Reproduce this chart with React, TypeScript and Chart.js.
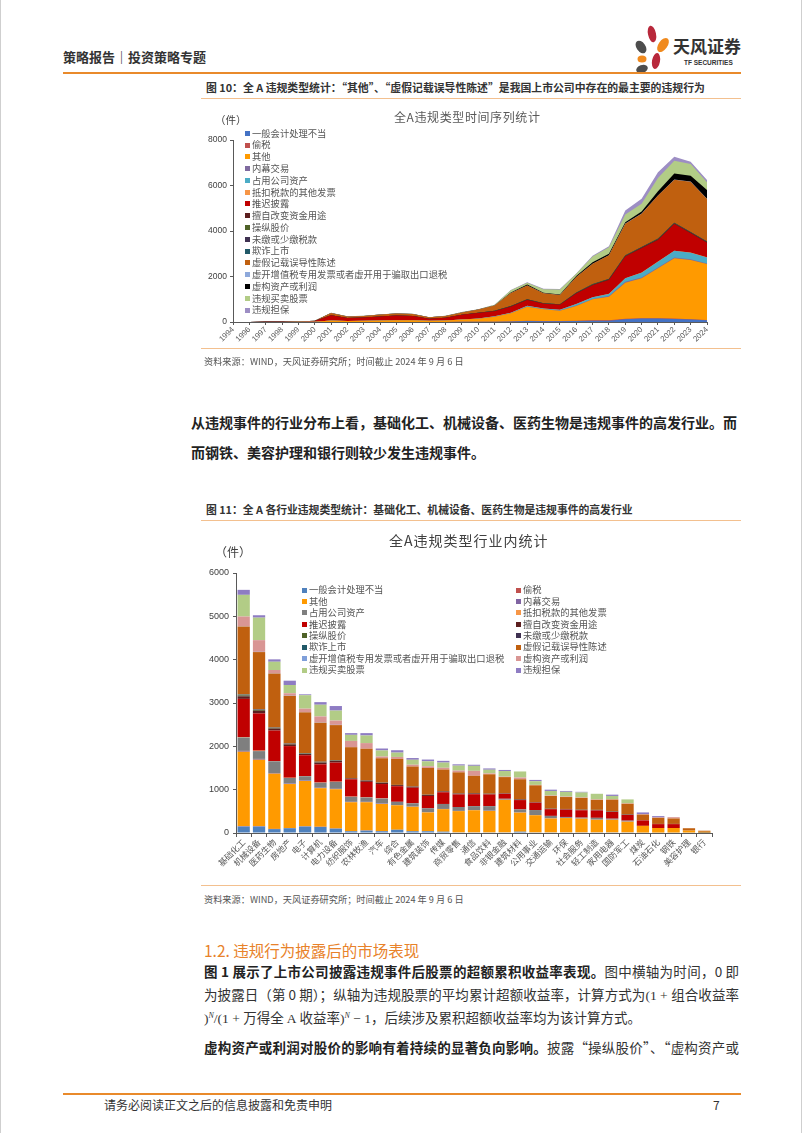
import React, { useEffect, useRef } from "react";
import { Chart, registerables } from "chart.js";

Chart.register(...registerables);

// ---------- shared series names ----------
const seriesNames = [
  "一般会计处理不当",
  "偷税",
  "其他",
  "内幕交易",
  "占用公司资产",
  "抵扣税款的其他发票",
  "推迟披露",
  "擅自改变资金用途",
  "操纵股价",
  "未缴或少缴税款",
  "欺诈上市",
  "虚假记载误导性陈述",
  "虚开增值税专用发票或者虚开用于骗取出口退税",
  "虚构资产或利润",
  "违规买卖股票",
  "违规担保",
];

const colorsTime = [
  "#4472C4", "#C0504D", "#FF9A00", "#7F6A9F", "#4BACC6", "#F79646", "#C00000", "#5C1F1F",
  "#4F6228", "#3F3151", "#215968", "#C0600F", "#8EA9DB", "#000000", "#B2CC86", "#9D8EC4",
];
const colorsIndustry = [
  "#4F81BD", "#C0504D", "#FF9A00", "#8064A2", "#7F7F7F", "#F79646", "#C00000", "#5C1F1F",
  "#4F6228", "#3F3151", "#215968", "#C0600F", "#7F9FD9", "#D99694", "#B2CC86", "#8E7CC3",
];

// ---------- chart 1: time series ----------
const yearLabels = [
  "1994", "1996", "1997", "1998", "1999", "2000", "2001", "2002", "2003", "2004",
  "2005", "2006", "2007", "2008", "2009", "2010", "2011", "2012", "2013", "2014",
  "2015", "2016", "2017", "2018", "2019", "2020", "2021", "2022", "2023", "2024",
];
const tsAccounting = [0,0,0,0,0,0,5,5,5,5,5,5,5,5,10,10,10,20,40,30,30,40,60,60,120,150,150,130,110,80];
const tsTaxEvasion = [0,0,0,0,0,0,0,0,0,0,0,0,0,0,0,0,5,5,10,10,10,10,15,15,20,20,20,20,15,10];
const tsOther = [2,2,3,4,8,10,60,40,50,60,70,70,50,60,100,130,220,355,620,515,460,650,920,1040,1590,1750,2190,2650,2600,2460];
const tsInsider = [0,0,0,0,0,0,0,0,0,0,0,0,0,0,0,0,5,5,10,10,10,20,20,30,40,40,40,40,30,20];
const tsOccupy = [0,0,0,0,0,0,0,0,0,0,0,0,0,0,5,10,15,20,30,30,25,70,70,90,150,210,250,290,290,270];
const tsDeduct = [0,0,0,0,0,0,0,0,0,0,0,0,0,0,0,0,0,0,0,0,0,5,5,5,5,5,5,5,5,5];
const tsDelay = [2,2,3,4,8,35,230,130,140,180,210,190,90,120,200,250,220,270,260,210,220,460,530,610,950,1070,950,1170,850,640];
const tsMisuse = [0,0,0,0,0,0,0,0,0,0,0,0,0,0,5,5,10,15,15,10,10,20,20,25,30,30,30,30,30,30];
const tsManipulation = [0,0,0,0,0,0,0,0,0,0,0,0,0,0,0,0,5,10,10,10,10,10,15,15,15,15,20,20,20,15];
const tsUnpaidTax = [0,0,0,0,0,0,0,0,0,0,0,0,0,0,0,0,0,0,0,0,0,5,5,5,5,5,5,5,5,5];
const tsFraudIPO = [0,0,0,0,0,0,0,0,0,0,0,0,0,0,0,0,0,0,0,0,0,5,5,5,5,5,5,5,5,5];
const tsFalseStatement = [1,1,2,2,4,15,100,70,70,80,90,90,60,80,100,140,230,580,610,440,410,680,890,1030,1390,1460,1890,1890,2210,1870];
const tsFakeInvoice = [0,0,0,0,0,0,0,0,0,0,0,0,0,0,0,0,0,0,0,0,0,5,5,5,5,5,5,5,5,5];
const tsFictitious = [0,0,0,0,0,0,0,0,0,0,0,0,0,0,0,0,5,20,40,20,20,40,65,65,65,95,185,265,255,385];
const tsIllegalTrading = [0,0,0,0,0,0,10,5,5,5,5,5,5,5,15,20,30,100,80,150,220,100,250,290,340,340,590,560,510,340];
const tsGuarantee = [0,0,0,0,0,0,0,0,0,0,0,0,0,0,0,0,0,10,20,30,30,10,40,40,170,220,250,180,100,100];

const timeSeries = [
  tsAccounting, tsTaxEvasion, tsOther, tsInsider, tsOccupy, tsDeduct, tsDelay, tsMisuse,
  tsManipulation, tsUnpaidTax, tsFraudIPO, tsFalseStatement, tsFakeInvoice, tsFictitious,
  tsIllegalTrading, tsGuarantee,
];
const yTicks1 = [0, 2000, 4000, 6000, 8000];

// ---------- chart 2: by industry ----------
const industries = [
  "基础化工", "机械设备", "医药生物", "房地产", "电子", "计算机", "电力设备", "纺织服饰",
  "农林牧渔", "汽车", "综合", "有色金属", "建筑装饰", "传媒", "商贸零售", "通信",
  "食品饮料", "非银金融", "建筑材料", "公用事业", "交通运输", "环保", "社会服务", "轻工制造",
  "家用电器", "国防军工", "煤炭", "石油石化", "钢铁", "美容护理", "银行",
];
const indAccounting = [150,150,90,110,150,140,100,40,55,40,75,40,40,30,15,15,15,15,30,15,15,15,15,15,15,15,10,10,10,10,3];
const indTaxEvasion = [10,10,5,5,5,5,5,0,5,5,0,0,0,0,0,0,0,0,0,0,0,0,0,0,0,0,0,0,0,0,0];
const indOther = [1715,1530,1275,1015,1045,890,905,670,650,625,565,565,435,520,490,510,495,750,440,395,320,330,315,290,290,245,155,105,105,45,25];
const indInsider = [20,20,15,10,10,10,10,10,10,10,5,5,5,5,5,5,5,5,5,5,5,5,5,5,5,5,0,0,0,0,0];
const indOccupy = [310,180,270,130,100,115,160,115,100,115,75,75,90,115,90,90,105,20,70,115,55,20,20,40,20,20,0,0,0,0,0];
const indDeduct = [10,10,5,5,5,5,5,5,5,5,0,0,0,0,0,0,0,0,0,0,0,0,0,0,0,0,0,0,0,0,0];
const indDelay = [880,860,705,730,480,420,440,400,355,330,360,360,285,270,290,275,270,115,215,170,155,170,170,170,155,130,125,90,90,0,0];
const indMisuse = [60,60,45,40,30,40,40,20,30,30,25,25,25,20,20,20,15,10,15,10,10,10,10,10,10,10,5,5,5,0,0];
const indManipulation = [20,20,15,10,10,10,10,5,5,5,5,5,5,5,5,5,5,5,5,5,5,5,5,5,5,5,0,0,0,0,0];
const indUnpaidTax = [10,10,5,5,5,5,5,0,0,0,0,0,0,0,0,0,0,0,0,0,0,0,0,0,0,0,0,0,0,0,0];
const indFraudIPO = [10,5,5,5,5,5,5,0,0,0,0,0,0,0,0,0,0,0,0,0,0,0,0,0,0,0,0,0,0,0,0];
const indFalseStatement = [1573,1320,1245,1100,940,900,805,715,730,560,600,460,615,500,485,400,445,370,460,385,290,275,270,230,270,245,130,140,125,55,25];
const indFakeInvoice = [5,5,5,5,5,5,5,0,0,0,0,0,0,0,0,0,0,0,0,0,0,0,0,0,0,0,0,0,0,0,0];
const indFictitious = [223,270,77,55,80,140,100,145,130,40,45,40,40,40,40,115,20,10,40,10,10,10,10,10,10,10,10,10,30,0,0];
const indIllegalTrading = [500,520,190,190,310,270,230,140,175,140,100,115,115,120,115,115,85,130,140,85,105,110,115,130,75,90,0,0,0,0,0];
const indGuarantee = [115,55,55,100,20,60,105,40,55,45,55,40,40,40,30,25,30,25,0,30,30,20,15,0,30,0,40,30,0,0,0];

const industrySeries = [
  indAccounting, indTaxEvasion, indOther, indInsider, indOccupy, indDeduct, indDelay, indMisuse,
  indManipulation, indUnpaidTax, indFraudIPO, indFalseStatement, indFakeInvoice, indFictitious,
  indIllegalTrading, indGuarantee,
];
const yTicks2 = [0, 1000, 2000, 3000, 4000, 5000, 6000];

const CJK = '"Noto Sans CJK SC", "Noto Sans", sans-serif';
const AXIS = "#595959";

function axisGrid(tickLength: number) {
  return {
    display: true,
    drawOnChartArea: false,
    drawTicks: true,
    tickLength,
    color: AXIS,
    tickColor: AXIS,
    lineWidth: 1,
  };
}

const Txt = (p: { x: number; y: number; size: number; children: any; style?: any }) => (
  <div
    style={{
      position: "absolute",
      left: p.x,
      top: p.y - p.size * 0.56,
      fontSize: p.size,
      lineHeight: 1,
      whiteSpace: "nowrap",
      fontFamily: CJK,
      ...(p.style || {}),
    }}
  >
    {p.children}
  </div>
);

const HLine = (p: { x: number; y: number; w: number; h?: number; c: string }) => (
  <div style={{ position: "absolute", left: p.x, top: p.y, width: p.w, height: p.h || 1, background: p.c }} />
);

function TimeChart() {
  const ref = useRef<HTMLCanvasElement>(null);
  useEffect(() => {
    if (!ref.current) return;
    const chart = new Chart(ref.current, {
      type: "line",
      data: {
        labels: yearLabels,
        datasets: seriesNames.map((name, i) => ({
          label: name,
          data: timeSeries[i],
          backgroundColor: colorsTime[i],
          borderColor: colorsTime[i],
          borderWidth: 0,
          pointRadius: 0,
          tension: 0,
          fill: "origin",
        })),
      },
      options: {
        responsive: false,
        animation: false,
        events: [],
        layout: { padding: { top: 40, right: 24, left: 0, bottom: 0 } },
        plugins: { legend: { display: false }, tooltip: { enabled: false }, title: { display: false } },
        scales: {
          x: {
            offset: false,
            grid: axisGrid(3) as any,
            border: { display: true, color: AXIS },
            ticks: {
              autoSkip: false,
              maxRotation: 45,
              minRotation: 45,
              padding: 0,
              color: "#595959",
              font: { family: "Liberation Sans", size: 7.8 },
            },
            afterFit: (s: any) => {
              s.height = 28;
            },
          },
          y: {
            stacked: true,
            min: 0,
            max: 8000,
            afterBuildTicks: (s: any) => {
              s.ticks = yTicks1.map((v) => ({ value: v }));
            },
            grid: axisGrid(3) as any,
            border: { display: true, color: AXIS },
            ticks: {
              padding: 3,
              color: "#404040",
              font: { family: "Liberation Sans", size: 8.5 },
              callback: (v: any) => String(v),
            },
            afterFit: (s: any) => {
              s.width = 32;
            },
          },
        },
      } as any,
    });
    return () => chart.destroy();
  }, []);
  return (
    <>
      <canvas ref={ref} width={530} height={250} style={{ position: "absolute", left: 200, top: 100 }} />
      <Txt x={393} y={118} size={12} style={{ color: "#595959", letterSpacing: 0.6 }}>
        全A违规类型时间序列统计
      </Txt>
      <Txt x={214} y={121} size={10.5} style={{ color: "#404040" }}>
        （件）
      </Txt>
      {seriesNames.map((name, i) => (
        <div
          key={name}
          style={{
            position: "absolute",
            left: 244,
            top: 133.3 + 11.78 * i - 5.5,
            height: 11,
            display: "flex",
            alignItems: "center",
            whiteSpace: "nowrap",
            fontFamily: CJK,
            fontSize: 9.3,
            lineHeight: 1,
            color: "#555",
          }}
        >
          <span style={{ display: "inline-block", width: 5, height: 5, background: colorsTime[i], marginRight: 2 }} />
          {name}
        </div>
      ))}
    </>
  );
}

function IndustryChart() {
  const ref = useRef<HTMLCanvasElement>(null);
  useEffect(() => {
    if (!ref.current) return;
    const chart = new Chart(ref.current, {
      type: "bar",
      data: {
        labels: industries,
        datasets: seriesNames.map((name, i) => ({
          label: name,
          data: industrySeries[i],
          backgroundColor: colorsIndustry[i],
          borderWidth: 0,
          barPercentage: 0.8,
          categoryPercentage: 1,
        })),
      },
      options: {
        responsive: false,
        animation: false,
        events: [],
        layout: { padding: { top: 48, right: 19, left: 0, bottom: 0 } },
        plugins: { legend: { display: false }, tooltip: { enabled: false }, title: { display: false } },
        scales: {
          x: {
            stacked: true,
            grid: { ...axisGrid(4), offset: true } as any,
            border: { display: true, color: AXIS },
            ticks: {
              autoSkip: false,
              maxRotation: 45,
              minRotation: 45,
              padding: 0,
              color: "#595959",
              font: { family: CJK, size: 8.5 },
            },
            afterFit: (s: any) => {
              s.height = 52;
            },
          },
          y: {
            stacked: true,
            min: 0,
            max: 6000,
            afterBuildTicks: (s: any) => {
              s.ticks = yTicks2.map((v) => ({ value: v }));
            },
            grid: axisGrid(3) as any,
            border: { display: true, color: AXIS },
            ticks: {
              padding: 4,
              color: "#404040",
              font: { family: "Liberation Sans", size: 9 },
              callback: (v: any) => String(v),
            },
            afterFit: (s: any) => {
              s.width = 35;
            },
          },
        },
      } as any,
    });
    return () => chart.destroy();
  }, []);
  return (
    <>
      <canvas ref={ref} width={530} height={360} style={{ position: "absolute", left: 200, top: 525 }} />
      <Txt x={388} y={541} size={14} style={{ color: "#404040", letterSpacing: 1 }}>
        全A违规类型行业内统计
      </Txt>
      <Txt x={214} y={553} size={12} style={{ color: "#404040" }}>
        （件）
      </Txt>
      {seriesNames.map((name, i) => {
        const col = i % 2;
        const row = Math.floor(i / 2);
        return (
          <div
            key={name}
            style={{
              position: "absolute",
              left: col === 0 ? 301 : 515,
              top: 590 + 11.43 * row - 5.5,
              height: 11,
              display: "flex",
              alignItems: "center",
              whiteSpace: "nowrap",
              fontFamily: CJK,
              fontSize: 9.3,
              lineHeight: 1,
              color: "#555",
            }}
          >
            <span style={{ display: "inline-block", width: 5, height: 5, background: colorsIndustry[i], marginRight: 2 }} />
            {name}
          </div>
        );
      })}
    </>
  );
}

const Logo = () => (
  <svg width={44} height={52} style={{ position: "absolute", left: 627, top: 23 }} viewBox="0 0 44 52">
    <ellipse cx={24} cy={11} rx={4} ry={8.5} transform="rotate(-12 24 11)" fill="#B8283B" />
    <ellipse cx={35} cy={22} rx={4.5} ry={8} transform="rotate(35 35 22)" fill="#F08A1E" />
    <ellipse cx={13} cy={24} rx={4.5} ry={7} transform="rotate(-35 13 24)" fill="#4D4D4D" />
    <ellipse cx={14} cy={36} rx={4.5} ry={3.5} fill="#F08A1E" />
    <ellipse cx={28} cy={38} rx={4} ry={8} transform="rotate(10 28 38)" fill="#B8283B" />
    <ellipse cx={14} cy={46} rx={6} ry={4} transform="rotate(-20 14 46)" fill="#4D4D4D" />
  </svg>
);

const serif = { fontFamily: '"Liberation Serif", "DejaVu Serif", serif' };
const justified = { width: 535, textAlign: "justify" as const, textAlignLast: "justify" as const };

export default function App() {
  return (
    <div
      style={{
        position: "absolute",
        left: 0,
        top: 0,
        width: 802,
        height: 1133,
        background: "#fff",
        overflow: "hidden",
        boxSizing: "border-box",
        borderLeft: "1px solid #cfcfcf",
        borderRight: "1px solid #cfcfcf",
        fontFamily: CJK,
        color: "#333",
      }}
    >
      {/* header */}
      <Txt x={62} y={57} size={13} style={{ fontWeight: 700, color: "#333" }}>
        策略报告｜投资策略专题
      </Txt>
      <Logo />
      <Txt x={672} y={47} size={17} style={{ fontWeight: 700, color: "#333" }}>
        天风证券
      </Txt>
      <Txt x={683} y={64} size={6.5} style={{ fontWeight: 700, color: "#333", fontFamily: "Liberation Sans" }}>
        TF SECURITIES
      </Txt>
      <HLine x={62} y={72} w={678} h={2} c="#E98A2B" />

      {/* figure 10 */}
      <Txt x={205} y={88} size={10.85} style={{ fontWeight: 700, color: "#333" }}>
        图 10：全 A 违规类型统计：“其他”、“虚假记载误导性陈述”是我国上市公司中存在的最主要的违规行为
      </Txt>
      <HLine x={200} y={98} w={540} c="#F3C08F" />
      <TimeChart />
      <HLine x={200} y={348} w={540} c="#F3C08F" />
      <Txt x={203} y={362} size={9.2} style={{ color: "#555" }}>
        资料来源：WIND，天风证券研究所；时间截止 2024 年 9 月 6 日
      </Txt>

      {/* paragraph */}
      <Txt x={190} y={423} size={14} style={{ fontWeight: 700, color: "#222" }}>
        从违规事件的行业分布上看，基础化工、机械设备、医药生物是违规事件的高发行业。而
      </Txt>
      <Txt x={190} y={453} size={14} style={{ fontWeight: 700, color: "#222" }}>
        而钢铁、美容护理和银行则较少发生违规事件。
      </Txt>

      {/* figure 11 */}
      <Txt x={205} y={510} size={10.8} style={{ fontWeight: 700, color: "#333" }}>
        图 11：全 A 各行业违规类型统计：基础化工、机械设备、医药生物是违规事件的高发行业
      </Txt>
      <HLine x={200} y={520} w={540} c="#F3C08F" />
      <IndustryChart />
      <HLine x={200} y={885} w={540} c="#F3C08F" />
      <Txt x={203} y={900} size={9.2} style={{ color: "#555" }}>
        资料来源：WIND，天风证券研究所；时间截止 2024 年 9 月 6 日
      </Txt>

      {/* section */}
      <Txt x={203} y={952} size={15.5} style={{ color: "#E8822A" }}>
        1.2. 违规行为披露后的市场表现
      </Txt>
      <Txt x={203} y={973} size={13.5} style={{ color: "#333", ...justified }}>
        <b style={{ color: "#222" }}>图 1 展示了上市公司披露违规事件后股票的超额累积收益率表现。</b>图中横轴为时间，0 即
      </Txt>
      <Txt x={203} y={996} size={13.5} style={{ color: "#333", ...justified }}>
        为披露日（第 0 期）；纵轴为违规股票的平均累计超额收益率，计算方式为<span style={serif}>(1 + </span>组合收益率
      </Txt>
      <Txt x={203} y={1019} size={13.5} style={{ color: "#333" }}>
        <span style={serif}>
          )<sup style={{ fontSize: 8, fontStyle: "italic" }}>N</sup>/(1 + </span>
        万得全 <span style={serif}>A</span> 收益率
        <span style={serif}>
          )<sup style={{ fontSize: 8, fontStyle: "italic" }}>N</sup> − 1
        </span>
        ，后续涉及累积超额收益率均为该计算方式。
      </Txt>
      <Txt x={203} y={1049} size={13.5} style={{ color: "#333", ...justified }}>
        <b style={{ color: "#222" }}>虚构资产或利润对股价的影响有着持续的显著负向影响。</b>披露“操纵股价”、“虚构资产或
      </Txt>

      {/* footer */}
      <HLine x={62} y={1093} w={678} h={2} c="#E98A2B" />
      <Txt x={103} y={1106} size={12} style={{ color: "#333" }}>
        请务必阅读正文之后的信息披露和免责申明
      </Txt>
      <Txt x={712} y={1106} size={12} style={{ color: "#333" }}>
        7
      </Txt>
    </div>
  );
}
